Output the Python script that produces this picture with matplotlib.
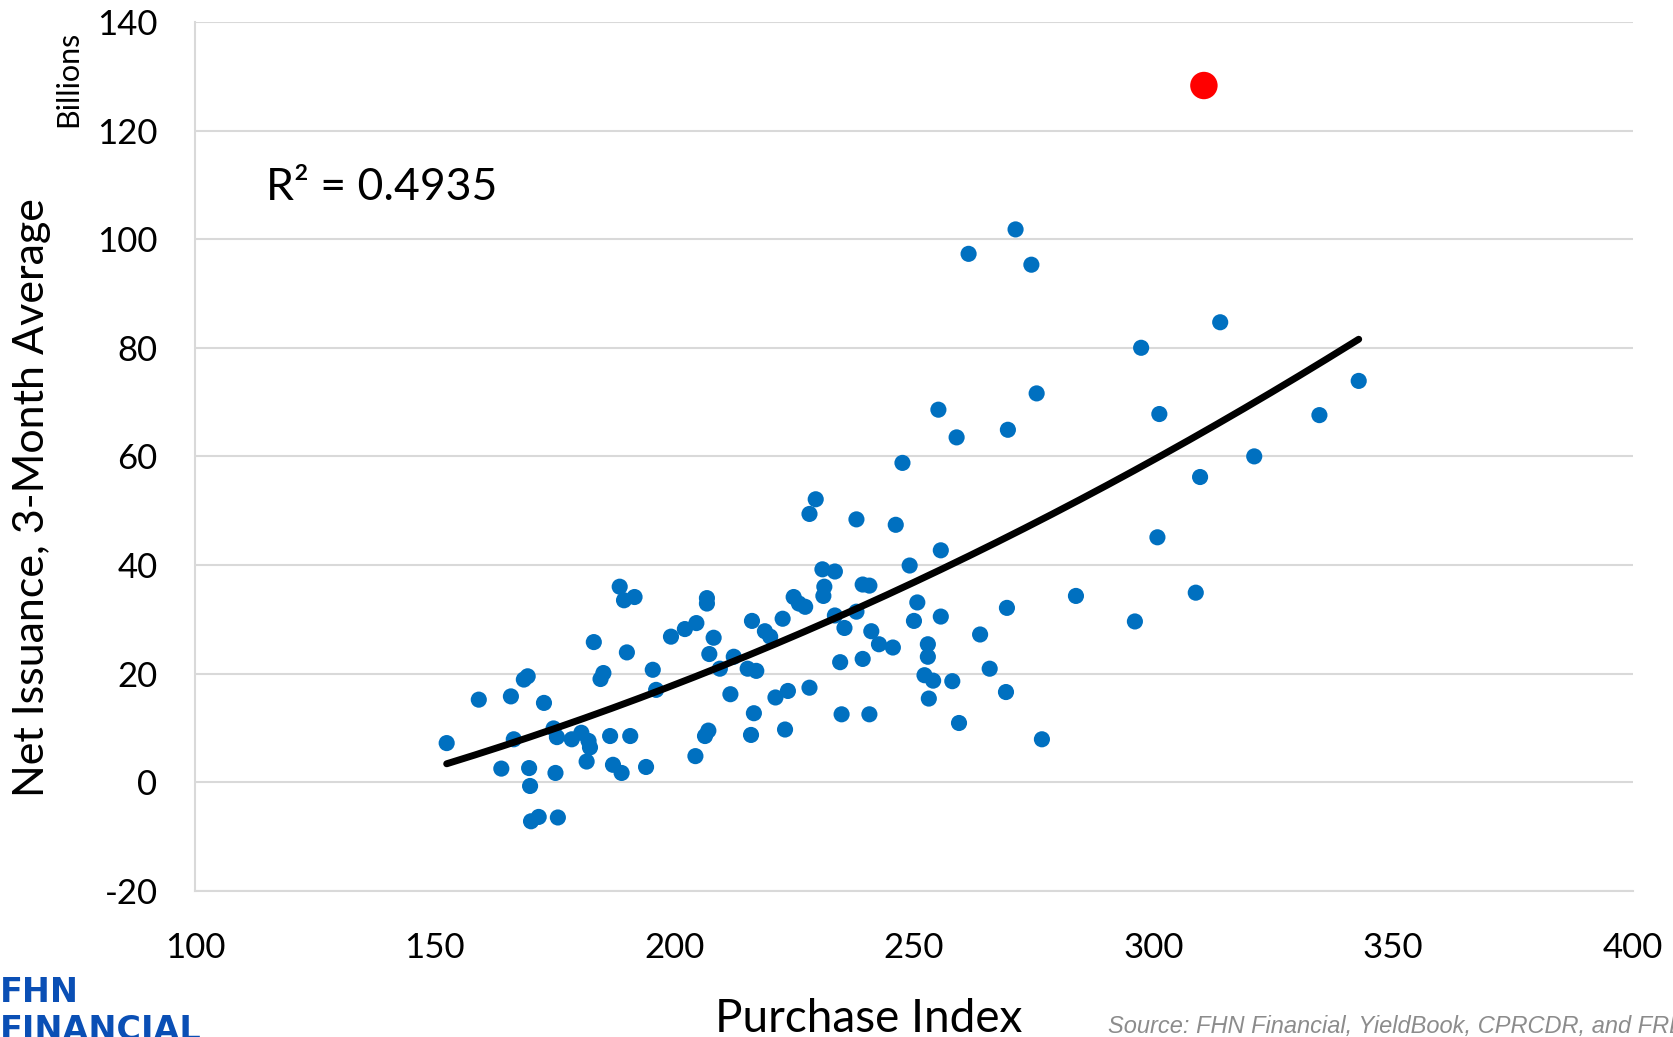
import numpy as np
import matplotlib
matplotlib.use("Agg")
import matplotlib.pyplot as plt

# Blue scatter: Purchase Index vs Net Issuance (3-month avg, $bn)
purchase_index = [152.5, 159.2, 163.9, 165.9, 166.5, 168.6, 169.4, 169.7, 169.9, 170.1,
                  171.7, 172.8, 174.8, 175.5, 175.2, 175.7, 178.6, 180.6, 181.7, 182.1,
                  182.4, 183.2, 184.6, 185.2, 186.6, 187.2, 188.6, 189.0, 189.5, 190.1,
                  190.8, 191.7, 194.1, 195.5, 196.2, 199.3, 202.2, 204.6, 204.4, 206.4,
                  206.8, 206.8, 207.1, 207.3, 208.2, 209.5, 211.7, 212.4, 215.3, 216.0,
                  216.2, 216.6, 217.1, 218.9, 220.0, 221.1, 222.6, 223.1, 223.7, 224.9,
                  226.0, 227.3, 228.2, 228.2, 229.5, 230.9, 231.1, 231.3, 233.5, 233.5,
                  234.6, 234.9, 235.5, 238.0, 238.0, 239.3, 239.3, 240.7, 240.7, 241.1,
                  242.7, 245.6, 246.2, 247.6, 249.1, 250.0, 250.7, 252.2, 252.9, 252.9,
                  253.1, 254.0, 255.1, 255.6, 255.6, 258.0, 258.9, 259.4, 261.4, 263.8,
                  265.8, 269.2, 269.4, 269.6, 271.2, 274.5, 275.6, 276.7, 283.8, 296.1,
                  297.4, 300.8, 301.2, 308.8, 309.7, 313.9, 321.0, 334.6, 342.8]
net_issuance = [7.2, 15.2, 2.5, 15.8, 7.9, 18.9, 19.5, 2.6, -0.7, -7.2,
                -6.4, 14.6, 9.9, 8.3, 1.7, -6.5, 7.9, 9.1, 3.8, 7.6,
                6.4, 25.8, 19.0, 20.1, 8.5, 3.2, 36.0, 1.7, 33.5, 23.9,
                8.5, 34.1, 2.8, 20.7, 17.0, 26.8, 28.2, 29.3, 4.8, 8.5,
                33.9, 32.9, 9.5, 23.6, 26.6, 20.9, 16.2, 23.1, 20.9, 8.7,
                29.7, 12.7, 20.5, 27.8, 26.8, 15.6, 30.1, 9.7, 16.8, 34.1,
                32.9, 32.3, 17.4, 49.4, 52.1, 39.2, 34.3, 36.0, 38.8, 30.7,
                22.1, 12.5, 28.4, 48.4, 31.4, 36.4, 22.7, 36.2, 12.5, 27.8,
                25.4, 24.8, 47.4, 58.8, 39.9, 29.7, 33.1, 19.7, 25.4, 23.1,
                15.4, 18.7, 68.6, 30.5, 42.7, 18.6, 63.5, 10.9, 97.3, 27.2,
                20.9, 16.6, 32.1, 64.9, 101.8, 95.3, 71.6, 7.9, 34.3, 29.6,
                80.0, 45.1, 67.8, 34.9, 56.2, 84.7, 60.0, 67.6, 73.9]

# Latest observation (red)
latest_x = [310.5]
latest_y = [128.3]

r2_label = "R² = 0.4935"
x_ticks = [100, 150, 200, 250, 300, 350, 400]
y_ticks = [-20, 0, 20, 40, 60, 80, 100, 120, 140]

plt.rcParams['font.family'] = ['Lato', 'DejaVu Sans']
plt.rcParams['axes.unicode_minus'] = False

fig = plt.figure(figsize=(16.73, 10.37), dpi=100)
ax = fig.add_axes([0.1166, 0.141, 0.8594, 0.8378])

x = np.array(purchase_index)
y = np.array(net_issuance)
# 2nd-order polynomial trendline fitted on all observations (incl. latest)
xa = np.concatenate([x, latest_x])
ya = np.concatenate([y, latest_y])
coef = np.polyfit(xa, ya, 2)
xs = np.linspace(x.min(), x.max(), 200)
ax.plot(xs, np.polyval(coef, xs), color='black', lw=5, solid_capstyle='round', zorder=3)

ax.scatter(x, y, s=135, color='#0070C0', edgecolors='none', zorder=2)
ax.scatter(latest_x, latest_y, s=390, color='#FF0000', edgecolors='none', zorder=4)

ax.set_xlim(100, 400)
ax.set_ylim(-20, 140)
ax.set_xticks(x_ticks)
ax.set_yticks(y_ticks)
ax.grid(axis='y', color='#D9D9D9', lw=1.5)
ax.set_axisbelow(True)
for s in ['top', 'right']:
    ax.spines[s].set_visible(False)
for s in ['left', 'bottom']:
    ax.spines[s].set_color('#D9D9D9')
    ax.spines[s].set_linewidth(1.5)
ax.tick_params(length=0, labelsize=25, pad=27)
ax.tick_params(axis='x', pad=30)

ax.text(0.049, 0.81, r2_label, transform=ax.transAxes, fontsize=32, ha='left', va='center')

fig.text(0.019, 0.52, "Net Issuance, 3-Month Average", rotation=90, fontsize=31,
         ha='center', va='center')
fig.text(0.041, 0.924, "Billions", rotation=90, fontsize=22, ha='center', va='center')
fig.text(0.519, 0.017, "Purchase Index", fontsize=33, ha='center', va='center')
fig.text(0.662, 0.01, "Source: FHN Financial, YieldBook, CPRCDR, and FRED",
         fontsize=17, style='italic', color='#8C8C8C', ha='left', va='center',
         family=['Liberation Sans'])
fig.text(0.0, 0.043, "FHN", fontsize=24, fontweight='bold', color='#0A4FB5',
         ha='left', va='center', family=['DejaVu Sans'])
fig.text(0.0, 0.0065, "FINANCIAL", fontsize=24, fontweight='bold', color='#0A4FB5',
         ha='left', va='center', family=['DejaVu Sans'])

fig.savefig("out.png", dpi=100)
